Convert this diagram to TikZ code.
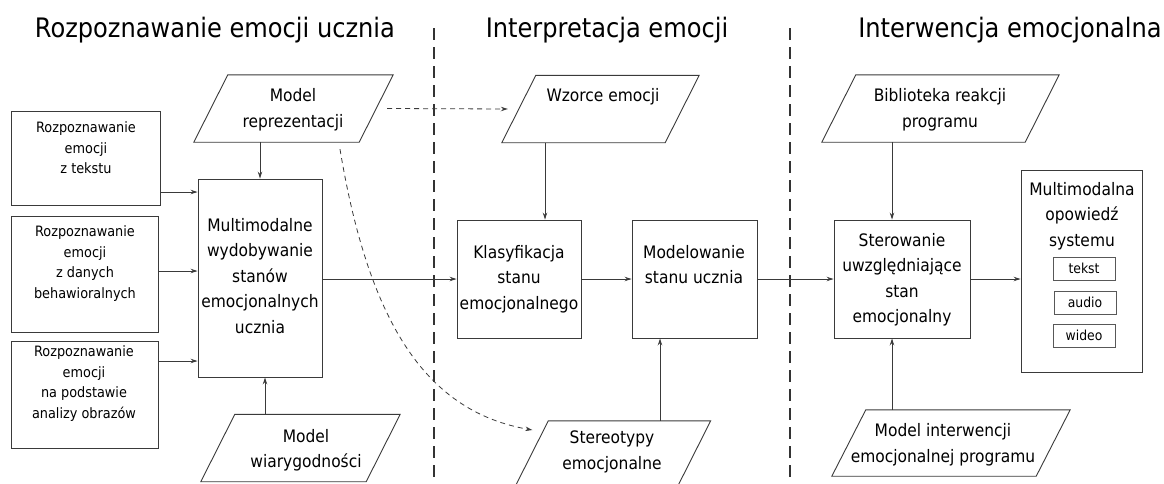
\documentclass[tikz,border=0pt]{standalone}
\usepackage{fontspec}
\setmainfont{DejaVu Sans Condensed}
\usetikzlibrary{arrows.meta,calc}
\definecolor{linec}{HTML}{3A3A3A}
\definecolor{sepc}{HTML}{333333}
\begin{document}
\begin{tikzpicture}[x=1pt,y=-1pt,
  box/.style={draw=linec, line width=0.9pt, inner sep=0pt},
  sub/.style={draw=linec!85, line width=0.8pt, inner sep=0pt, minimum width=62pt, minimum height=23pt, font=\fontsize{13.8}{15}\selectfont},
  pnode/.style={inner sep=0pt, minimum height=67pt},
  pline/.style={draw=linec, line width=0.9pt},
  txt/.style={inner sep=0pt, align=center, font=\fontsize{17.2}{25.5}\selectfont},
  stxt/.style={inner sep=0pt, align=center, font=\fontsize{14.3}{20.5}\selectfont},
  ttl/.style={inner sep=0pt, font=\fontsize{26.8}{30}\selectfont},
  arr/.style={draw=linec, line width=0.9pt, -{Stealth[length=7pt,width=4.5pt]}},
  darr/.style={draw=linec, line width=0.8pt, dash pattern=on 5pt off 4pt, -{Stealth[length=7pt,width=4.5pt]}},
  sep/.style={draw=sepc, line width=1.6pt, dash pattern=on 12pt off 7pt}
]
\useasboundingbox (0,0) rectangle (1164,483);
\clip (0,0) rectangle (1164,483);

% titles
\node[ttl] (t1) at (215,30) {Rozpoznawanie emocji ucznia};
\node[ttl] (t2) at (607,30) {Interpretacja emocji};
\node[ttl] (t3) at (1010,30) {Interwencja emocjonalna};

% separators
\coordinate (s1a) at (434,28); \coordinate (s1b) at (434,483);
\coordinate (s2a) at (790,28); \coordinate (s2b) at (790,483);
\draw[sep] (s1a) -- (s1b);
\draw[sep] (s2a) -- (s2b);

% left input boxes
\node[box, minimum width=149pt, minimum height=94pt] (b1) at (85.5,158) {};
\node[stxt] (b1t) at (86,148) {Rozpoznawanie\\emocji\\z tekstu};
\node[box, minimum width=147pt, minimum height=116pt] (b2) at (84.5,274) {};
\node[stxt] (b2t) at (85,263.5) {Rozpoznawanie\\emocji\\z danych\\behawioralnych};
\node[box, minimum width=147pt, minimum height=107pt] (b3) at (84.5,394.5) {};
\node[stxt] (b3t) at (84,383.5) {Rozpoznawanie\\emocji\\na podstawie\\analizy obrazów};

% main box
\node[box, minimum width=124pt, minimum height=198pt] (mb) at (260,278) {};
\node[txt] (mbt) at (260,276) {Multimodalne\\wydobywanie\\stanów\\emocjonalnych\\ucznia};

% parallelograms
\node[pnode, minimum width=199pt] (mr) at (293.5,108.5) {};
\node[txt] (mrt) at (293,109.5) {Model\\reprezentacji};
\node[pnode, minimum width=199pt] (mw) at (300.5,448) {};
\node[txt] (mwt) at (306,450) {Model\\wiarygodności};
\node[pnode, minimum width=197pt] (wz) at (600.5,109) {};
\node[txt] (wzt) at (603,97) {Wzorce emocji};
\node[pnode, minimum width=196pt] (stp) at (612.5,454.5) {};
\node[txt] (stpt) at (612,452) {Stereotypy\\emocjonalne};
\node[pnode, minimum width=237pt] (bib) at (940.5,108.5) {};
\node[txt] (bibt) at (940,109.5) {Biblioteka reakcji\\programu};
\node[pnode, minimum width=238pt, minimum height=66pt] (mi) at (951,443) {};
\node[txt] (mit) at (943,444.5) {Model interwencji\\emocjonalnej programu};

\foreach \n in {mr,mw,wz,stp,bib,mi}{
  \draw[pline] (\n.south west) -- ([xshift=34pt]\n.north west) -- (\n.north east) -- ([xshift=-34pt]\n.south east) -- cycle;
}

% middle boxes
\node[box, minimum width=124pt, minimum height=118pt] (kl) at (519,279) {};
\node[txt] (klt) at (519,279) {Klasyfikacja\\stanu\\emocjonalnego};
\node[box, minimum width=125pt, minimum height=118pt] (mo) at (694.5,279) {};
\node[txt] (mot) at (694,264.5) {Modelowanie\\stanu ucznia};

% right boxes
\node[box, minimum width=136pt, minimum height=118pt] (st) at (902,279) {};
\node[txt] (stt) at (902,279.5) {Sterowanie\\uwzględniające\\stan\\emocjonalny};
\node[box, minimum width=121pt, minimum height=202pt] (mm) at (1081.5,271) {};
\node[txt] (mmt) at (1082,216) {Multimodalna\\opowiedź\\systemu};
\node[sub] (s1) at (1084,268.5) {tekst};
\node[sub] (s2) at (1085,302.5) {audio};
\node[sub] (s3) at (1084,335.5) {wideo};

% arrows left
\draw[arr] (b1.east |- 0,192) -- (mb.west |- 0,192);
\draw[arr] (b2.east |- 0,271) -- (mb.west |- 0,271);
\draw[arr] (b3.east |- 0,361) -- (mb.west |- 0,361);
\draw[arr] (mr.south -| mb.north) -- (mb.north);
\draw[arr] ([xshift=5pt]mb.south |- mw.north) -- ([xshift=5pt]mb.south);
\draw[arr] (mb.east |- kl.west) -- (kl.west);

% dashed
\draw[darr] ([xshift=-6pt]mr.east) -- ([xshift=6pt]wz.west);
\draw[darr] ([xshift=46.5pt,yshift=-7pt]mr.south) .. controls (370,330) and (430,412) .. ([xshift=18pt,yshift=24.5pt]stp.west);

% middle arrows
\draw[arr] ([xshift=-55.5pt]wz.south) -- ([xshift=-55.5pt]wz.south |- kl.north);
\draw[arr] (kl.east) -- (mo.west);
\draw[arr] ([xshift=-34.5pt]mo.south |- stp.north) -- ([xshift=-34.5pt]mo.south);
\draw[arr] (mo.east) -- (st.west);

% right arrows
\draw[arr] ([xshift=-10pt]st.north |- bib.south) -- ([xshift=-10pt]st.north);
\draw[arr] ([xshift=-10pt]st.south |- mi.north) -- ([xshift=-10pt]st.south);
\draw[arr] (st.east) -- (st.east -| mm.west);
\end{tikzpicture}
\end{document}
